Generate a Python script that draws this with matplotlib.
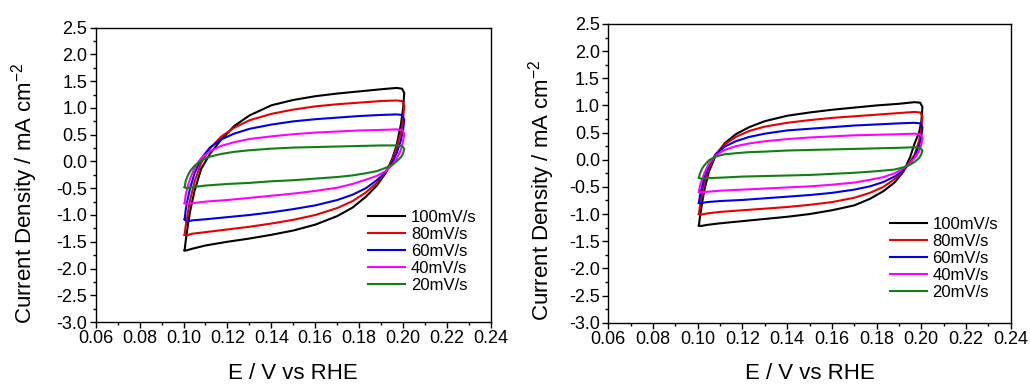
import numpy as np
import matplotlib
matplotlib.use("Agg")
import matplotlib.pyplot as plt
from matplotlib.ticker import MultipleLocator, FormatStrFormatter

plt.rcParams["font.family"] = ["Liberation Sans", "DejaVu Sans"]
plt.rcParams["mathtext.default"] = "regular"

RATES = ["100mV/s", "80mV/s", "60mV/s", "40mV/s", "20mV/s"]
COLORS = ["#000000", "#e80000", "#0000e8", "#ff00ff", "#108010"]

E_UP = [0.1005, 0.101, 0.102, 0.103, 0.105, 0.108, 0.112, 0.117, 0.123, 0.130,
        0.140, 0.150, 0.160, 0.170, 0.180, 0.190, 0.197, 0.1995, 0.2005]
E_DOWN = [0.2005, 0.200, 0.199, 0.197, 0.195, 0.192, 0.188, 0.183, 0.177, 0.170,
          0.160, 0.150, 0.140, 0.130, 0.120, 0.110, 0.104, 0.1015, 0.1005]

# left panel, mA cm-2
L100_UP = [-1.66, -1.48, -1.18, -0.93, -0.55, -0.14, 0.14, 0.40, 0.66, 0.86,
           1.05, 1.15, 1.22, 1.27, 1.31, 1.35, 1.375, 1.36, 1.28]
L100_DOWN = [1.28, 1.00, 0.70, 0.30, 0.05, -0.22, -0.45, -0.66, -0.86, -1.02,
             -1.18, -1.29, -1.37, -1.44, -1.50, -1.57, -1.63, -1.66, -1.66]
L80_UP = [-1.37, -1.20, -0.95, -0.72, -0.38, -0.03, 0.24, 0.46, 0.63, 0.77,
          0.89, 0.97, 1.03, 1.07, 1.10, 1.13, 1.14, 1.13, 1.05]
L80_DOWN = [1.05, 0.80, 0.55, 0.25, 0.02, -0.20, -0.40, -0.58, -0.74, -0.87,
            -1.00, -1.09, -1.16, -1.22, -1.27, -1.32, -1.35, -1.38, -1.37]
L60_UP = [-1.08, -0.90, -0.68, -0.50, -0.22, 0.05, 0.26, 0.41, 0.52, 0.61,
          0.69, 0.75, 0.79, 0.82, 0.85, 0.87, 0.88, 0.87, 0.78]
L60_DOWN = [0.78, 0.60, 0.40, 0.15, -0.02, -0.20, -0.35, -0.50, -0.62, -0.72,
            -0.82, -0.89, -0.95, -1.00, -1.04, -1.08, -1.10, -1.12, -1.08]
L40_UP = [-0.78, -0.62, -0.45, -0.32, -0.12, 0.06, 0.19, 0.29, 0.36, 0.42,
          0.47, 0.51, 0.54, 0.56, 0.58, 0.59, 0.60, 0.59, 0.52]
L40_DOWN = [0.52, 0.38, 0.22, 0.05, -0.07, -0.18, -0.27, -0.34, -0.42, -0.49,
            -0.55, -0.60, -0.64, -0.68, -0.72, -0.75, -0.78, -0.79, -0.78]
L20_UP = [-0.48, -0.36, -0.26, -0.18, -0.08, 0.02, 0.09, 0.14, 0.18, 0.21,
          0.24, 0.26, 0.27, 0.28, 0.29, 0.30, 0.30, 0.29, 0.24]
L20_DOWN = [0.24, 0.15, 0.08, 0.00, -0.06, -0.12, -0.18, -0.22, -0.26, -0.29,
            -0.32, -0.35, -0.37, -0.40, -0.42, -0.45, -0.48, -0.50, -0.48]

# right panel, mA cm-2
R100_UP = [-1.21, -1.05, -0.78, -0.55, -0.22, 0.08, 0.30, 0.47, 0.60, 0.71,
           0.81, 0.87, 0.92, 0.96, 1.00, 1.03, 1.06, 1.05, 0.97]
R100_DOWN = [0.97, 0.70, 0.50, 0.30, 0.05, -0.22, -0.42, -0.58, -0.72, -0.84,
             -0.93, -1.00, -1.05, -1.09, -1.13, -1.17, -1.20, -1.22, -1.21]
R80_UP = [-1.00, -0.85, -0.62, -0.43, -0.15, 0.10, 0.28, 0.42, 0.53, 0.61,
          0.68, 0.73, 0.77, 0.80, 0.83, 0.86, 0.88, 0.87, 0.80]
R80_DOWN = [0.80, 0.55, 0.35, 0.10, -0.04, -0.20, -0.36, -0.50, -0.61, -0.70,
            -0.78, -0.83, -0.87, -0.90, -0.93, -0.96, -0.99, -1.01, -1.00]
R60_UP = [-0.80, -0.66, -0.48, -0.33, -0.10, 0.10, 0.24, 0.34, 0.42, 0.48,
          0.54, 0.57, 0.60, 0.63, 0.65, 0.67, 0.68, 0.67, 0.60]
R60_DOWN = [0.60, 0.42, 0.26, 0.06, -0.06, -0.19, -0.31, -0.41, -0.49, -0.55,
            -0.61, -0.65, -0.68, -0.71, -0.74, -0.76, -0.78, -0.80, -0.79]
R40_UP = [-0.60, -0.48, -0.35, -0.24, -0.07, 0.08, 0.18, 0.25, 0.30, 0.34,
          0.38, 0.41, 0.43, 0.45, 0.46, 0.47, 0.48, 0.47, 0.40]
R40_DOWN = [0.40, 0.28, 0.16, 0.03, -0.06, -0.16, -0.25, -0.32, -0.37, -0.42,
            -0.46, -0.49, -0.51, -0.53, -0.55, -0.57, -0.59, -0.60, -0.59]
R20_UP = [-0.33, -0.25, -0.16, -0.10, -0.01, 0.06, 0.10, 0.12, 0.14, 0.15,
          0.17, 0.18, 0.19, 0.20, 0.21, 0.22, 0.23, 0.22, 0.17]
R20_DOWN = [0.17, 0.10, 0.03, -0.04, -0.09, -0.14, -0.18, -0.20, -0.22, -0.24,
            -0.26, -0.28, -0.29, -0.30, -0.31, -0.33, -0.34, -0.35, -0.33]

LEFT = [(L100_UP, L100_DOWN), (L80_UP, L80_DOWN), (L60_UP, L60_DOWN),
        (L40_UP, L40_DOWN), (L20_UP, L20_DOWN)]
RIGHT = [(R100_UP, R100_DOWN), (R80_UP, R80_DOWN), (R60_UP, R60_DOWN),
         (R40_UP, R40_DOWN), (R20_UP, R20_DOWN)]


def draw_panel(ax, loops, leg_anchor, ylab_xy):
    E = np.concatenate([E_UP, E_DOWN[1:]])
    for (up, down), lab, c in zip(loops, RATES, COLORS):
        j = np.concatenate([up, down[1:]])
        ax.plot(E, j, color=c, lw=1.5, label=lab)
    ax.set_xlim(0.06, 0.24)
    ax.set_ylim(-3.0, 2.5)
    ax.xaxis.set_major_locator(MultipleLocator(0.02))
    ax.xaxis.set_minor_locator(MultipleLocator(0.01))
    ax.yaxis.set_major_locator(MultipleLocator(0.5))
    ax.yaxis.set_minor_locator(MultipleLocator(0.25))
    ax.xaxis.set_major_formatter(FormatStrFormatter("%.2f"))
    ax.yaxis.set_major_formatter(FormatStrFormatter("%.1f"))
    ax.tick_params(which="both", direction="out", labelsize=13, width=1.0,
                   top=False, right=False, pad=2)
    ax.tick_params(which="major", length=4)
    ax.tick_params(which="minor", length=2.5)
    for s in ax.spines.values():
        s.set_linewidth(1.0)
    ax.set_xlabel("E / V vs RHE", fontsize=16, labelpad=11)
    ax.set_ylabel(r"Current Density / mA cm$^{-2}$", fontsize=16)
    ax.yaxis.set_label_coords(*ylab_xy)
    ax.legend(loc="upper left", bbox_to_anchor=leg_anchor, frameon=False,
              fontsize=12, handlelength=2.2, handletextpad=0.35,
              labelspacing=0.12, borderpad=0, borderaxespad=0)


fig = plt.figure(figsize=(10.30, 3.85), dpi=100)
ax1 = fig.add_axes([0.0929, 0.1636, 0.3838, 0.7644])
ax2 = fig.add_axes([0.5906, 0.1618, 0.3907, 0.7760])
draw_panel(ax1, LEFT, (0.69, 0.38), (-0.142, 0.438))
draw_panel(ax2, RIGHT, (0.70, 0.355), (-0.128, 0.443))
fig.savefig("out.png", dpi=100)
